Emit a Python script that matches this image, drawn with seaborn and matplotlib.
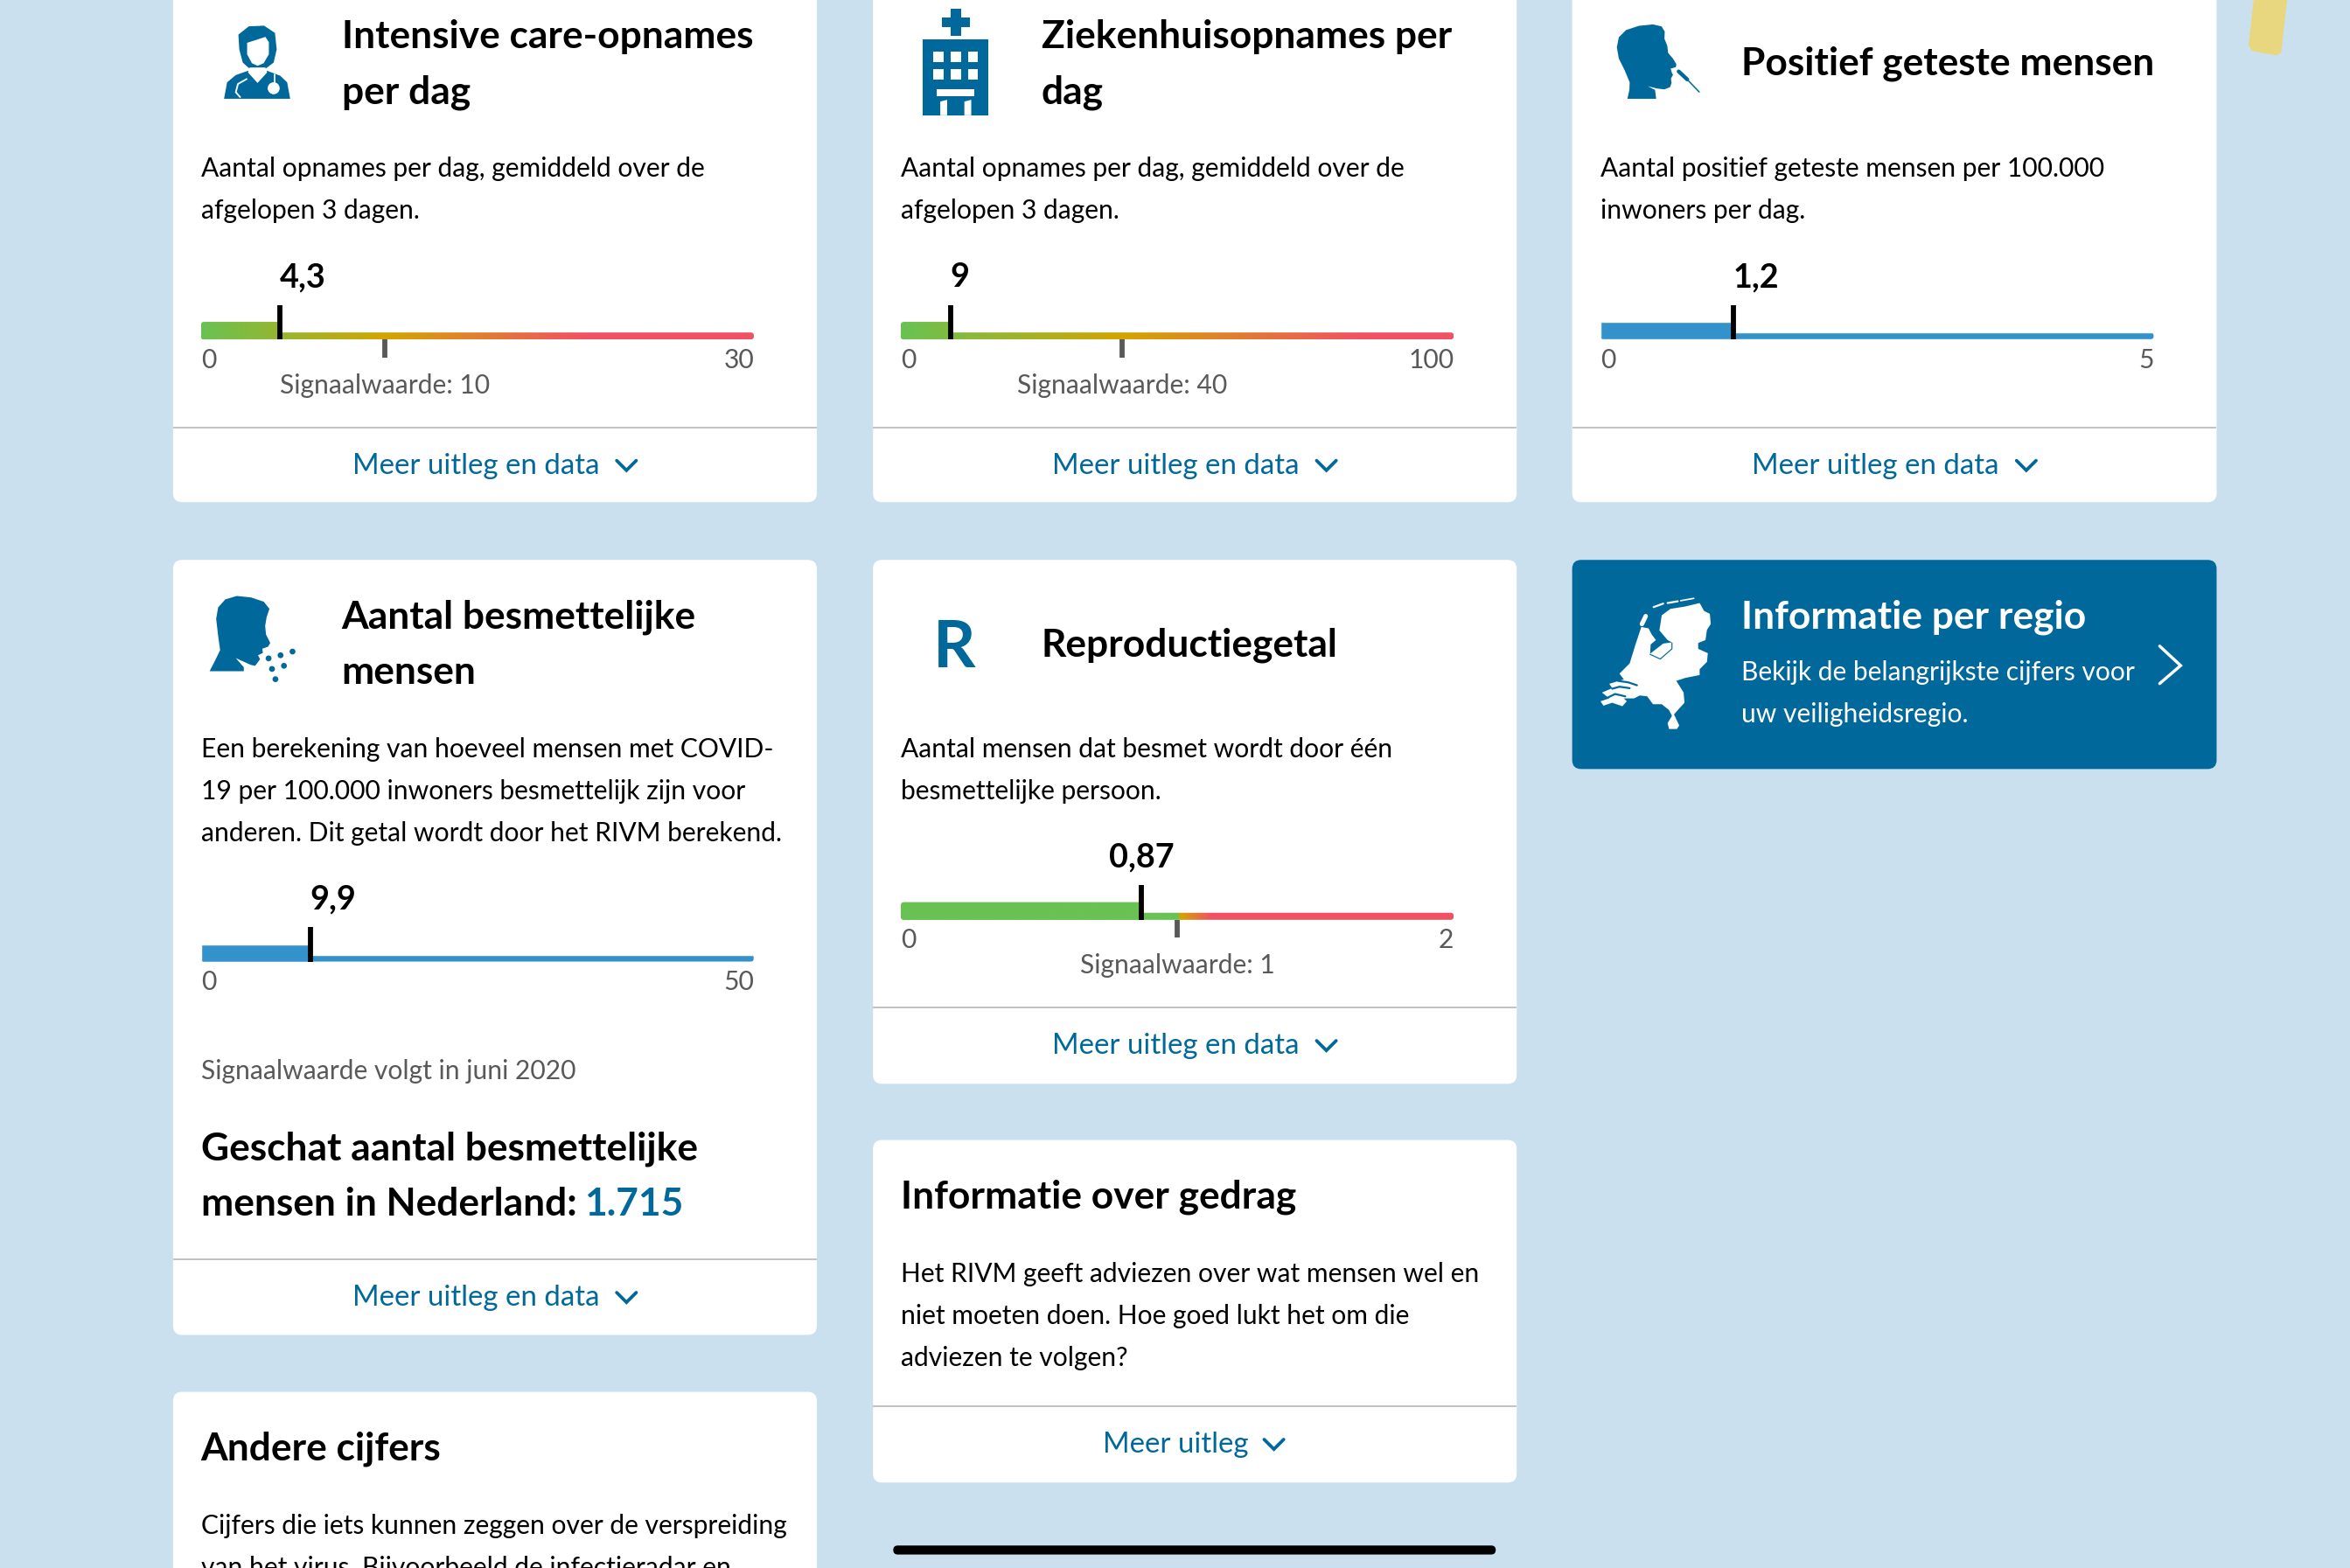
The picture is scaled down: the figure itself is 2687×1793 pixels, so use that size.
import numpy as np
import matplotlib
matplotlib.use("Agg")
import matplotlib.pyplot as plt
from matplotlib.patches import FancyBboxPatch, Polygon, Circle, Rectangle
from matplotlib.colors import LinearSegmentedColormap
import seaborn as sns

# ---- data ----
gauge_names = ["IC", "Ziekenhuis", "Positief", "Besmettelijk", "R"]
gauge_values = [4.3, 9, 1.2, 9.9, 0.87]
gauge_maxima = [30, 100, 5, 50, 2]
gauge_signals = [10, 40, None, None, 1]
gauge_value_labels = ["4,3", "9", "1,2", "9,9", "0,87"]
gauge_max_labels = ["30", "100", "5", "50", "2"]
signal_labels = ["Signaalwaarde: 10", "Signaalwaarde: 40", None, None, "Signaalwaarde: 1"]

sns.set_theme(style="white")
plt.rcParams["font.family"] = ["Lato", "DejaVu Sans"]

W, H = 1568.0, 1046.0
BG = "#CBE0EF"; BLUE = "#01689B"; GREY = "#595959"; LINE = "#C4C4C4"
GREEN = "#69C253"; YELLOW = "#D3A500"; RED = "#F35065"; BARBLUE = "#3391CC"
BODY = 17.5

fig = plt.figure(figsize=(26.87, 17.93), dpi=100, facecolor=BG)
main = fig.add_axes([0, 0, 1, 1])
main.set_xlim(0, W); main.set_ylim(H, 0); main.axis("off")


def pt(px):
    return px * 1.7136 * 72 / 100


def T(x, y, s, size=BODY, color="black", weight="normal", ha="left"):
    main.text(x, y, s, fontsize=pt(size), color=color, fontweight=weight, ha=ha, va="baseline")


def card(x0, y0, x1, y1, color="white"):
    main.add_patch(FancyBboxPatch((x0, y0), x1 - x0, y1 - y0, boxstyle="round,pad=0,rounding_size=6",
                                  fc=color, ec="none", zorder=0.5))


def divider(x0, x1, y):
    main.plot([x0, x1], [y, y], color=LINE, lw=pt(1.2), solid_capstyle="butt", zorder=1)


def chevron(x, y, color=BLUE, w=6.5, h=6.5, lw=2.2):
    main.plot([x - w, x, x + w], [y - h / 2, y + h / 2, y - h / 2], color=color, lw=pt(lw),
              solid_capstyle="round", solid_joinstyle="miter")


def link(xl, base, s, xc):
    T(xl, base, s, size=19.3, color=BLUE)
    chevron(xc, base - 5.5)


def gauge(i, x0, base):
    x1 = x0 + 369
    vmax = gauge_maxima[i]; val = gauge_values[i]; sig = gauge_signals[i]
    ax = fig.add_axes([x0 / W, 1 - (base + 12) / H, 369 / W, 35 / H], facecolor="none")
    col = BARBLUE if sig is None else GREEN
    sns.barplot(x=[vmax], y=[2.3], orient="h", native_scale=True, width=4.6, color=col,
                saturation=1, errorbar=None, ax=ax)
    track = ax.patches[-1]
    sns.barplot(x=[val], y=[5.85], orient="h", native_scale=True, width=11.7, color=col,
                saturation=1, errorbar=None, ax=ax)
    bar = ax.patches[-1]
    per_px = vmax / 369
    aspect = 1 / per_px
    shapes = []
    for b in (track, bar):
        rp = FancyBboxPatch((b.get_x(), b.get_y()), b.get_width(), b.get_height(),
                            boxstyle=f"round,pad=0,rounding_size={2.3 * per_px}",
                            mutation_aspect=aspect, fc="none", ec="none", transform=ax.transData)
        ax.add_patch(rp)
        b.set_clip_path(rp)
        shapes.append(rp)
    if sig is not None:
        if sig == 1:
            stops = [(0, GREEN), (0.5, GREEN), (0.505, YELLOW), (0.56, RED), (1, RED)]
        else:
            s = sig / vmax
            stops = [(0, GREEN), (s, YELLOW), (min(s * 2.1, 0.92), RED), (1, RED)]
        cmap = LinearSegmentedColormap.from_list("g", stops, N=1024)
        for rp in shapes:
            im = ax.imshow(np.linspace(0, 1, 1024)[None, :], extent=[0, vmax, 0, 12], aspect="auto",
                           cmap=cmap, vmin=0, vmax=1, zorder=3)
            im.set_clip_path(rp)
        ax.plot([sig, sig], [-12, 0], color=GREY, lw=4.2, solid_capstyle="butt", zorder=2)
    ax.plot([val, val], [0, 23], color="black", lw=4.2, solid_capstyle="butt", zorder=4)
    ax.set_xlim(0, vmax); ax.set_ylim(-12, 23); ax.axis("off")
    # labels
    xv = x0 + 369 * val / vmax
    if gauge_value_labels[i] == "0,87":
        T(xv, base - 35, gauge_value_labels[i], size=22, weight="bold", ha="center")
    else:
        T(xv, base - 35, gauge_value_labels[i], size=22, weight="bold")
    T(x0, base + 19, "0", color=GREY)
    T(x1, base + 19, gauge_max_labels[i], color=GREY, ha="right")
    if sig is not None:
        T(x0 + 369 * sig / vmax, base + 36, signal_labels[i], color=GREY, ha="center")


# ---- cards ----
card(115.5, -20, 545, 335); card(582.5, -20, 1012, 335); card(1049, -20, 1479, 335)
card(115.5, 373.5, 545, 890.5); card(582.5, 373.5, 1012, 723); card(1049, 373.5, 1479, 513, BLUE)
card(115.5, 928.5, 545, 1090); card(582.5, 760.5, 1012, 989)
divider(115.5, 545, 285); divider(582.5, 1012, 285); divider(1049, 1479, 285)
divider(115.5, 545, 840.3); divider(582.5, 1012, 672.3); divider(582.5, 1012, 938.3)

# ---- text ----
TS = 25.8
T(228, 32, "Intensive care-opnames", TS, weight="bold"); T(228, 69, "per dag", TS, weight="bold")
T(695, 32, "Ziekenhuisopnames per", TS, weight="bold"); T(695, 69, "dag", TS, weight="bold")
T(1162, 50, "Positief geteste mensen", TS, weight="bold")
T(134, 118, "Aantal opnames per dag, gemiddeld over de"); T(134, 146, "afgelopen 3 dagen.")
T(601, 118, "Aantal opnames per dag, gemiddeld over de"); T(601, 146, "afgelopen 3 dagen.")
T(1068, 118, "Aantal positief geteste mensen per 100.000"); T(1068, 146, "inwoners per dag.")
T(228, 419, "Aantal besmettelijke", TS, weight="bold"); T(228, 456, "mensen", TS, weight="bold")
T(134, 505, "Een berekening van hoeveel mensen met COVID-")
T(134, 533, "19 per 100.000 inwoners besmettelijk zijn voor")
T(134, 561, "anderen. Dit getal wordt door het RIVM berekend.")
T(134, 720, "Signaalwaarde volgt in juni 2020", color=GREY)
T(134, 774, "Geschat aantal besmettelijke", TS, weight="bold")
T(134, 811, "mensen in Nederland:", TS, weight="bold")
T(390, 811, "1.715", TS, color=BLUE, weight="bold")
main.text(637, 445, "R", fontsize=pt(44), color=BLUE, fontweight="bold", ha="center", va="baseline")
T(695, 438, "Reproductiegetal", TS, weight="bold")
T(601, 505, "Aantal mensen dat besmet wordt door één"); T(601, 533, "besmettelijke persoon.")
T(1162, 419, "Informatie per regio", TS, color="white", weight="bold")
T(1162, 454, "Bekijk de belangrijkste cijfers voor", color="white")
T(1162, 482, "uw veiligheidsregio.", color="white")
T(134, 974, "Andere cijfers", TS, weight="bold")
T(134, 1023, "Cijfers die iets kunnen zeggen over de verspreiding")
T(134, 1051, "van het virus. Bijvoorbeeld de infectieradar en")
T(601, 806, "Informatie over gedrag", TS, weight="bold")
T(601, 855, "Het RIVM geeft adviezen over wat mensen wel en")
T(601, 883, "niet moeten doen. Hoe goed lukt het om die")
T(601, 911, "adviezen te volgen?")

link(235, 316, "Meer uitleg en data", 418); link(702, 316, "Meer uitleg en data", 885)
link(1169, 316, "Meer uitleg en data", 1352); link(235, 871, "Meer uitleg en data", 418)
link(702, 703, "Meer uitleg en data", 885); link(736, 969, "Meer uitleg", 850)
main.plot([1441, 1455, 1441], [431, 444, 456], color="white", lw=pt(2), solid_capstyle="round", solid_joinstyle="miter")

gauge(0, 134, 226.4); gauge(1, 601, 226.4); gauge(2, 1068, 226.4)
gauge(3, 134, 641.5); gauge(4, 601, 613.5)

# ---- icons (decoration) ----
def to_disp(pts, ox, oy, sx, sy):
    return [((ox + x / sx) / 1.7136, (oy + y / sy) / 1.7136) for x, y in pts]


def poly(pts, color=BLUE, z=2):
    main.add_patch(Polygon(pts, closed=True, fc=color, ec="none", zorder=z))


# doctor
D = lambda p: to_disp(p, 190, 0, 2.01, 2.657)
poly(D([(168, 150), (166, 105), (190, 80), (225, 78), (250, 100), (254, 150), (247, 190), (215, 222), (203, 222), (176, 190)]))
poly(D([(186, 130), (205, 122), (228, 112), (236, 128), (236, 165), (224, 192), (210, 200), (197, 192), (186, 165)]), "white", 2.1)
poly(D([(133, 300), (140, 250), (160, 228), (188, 215), (210, 250), (232, 215), (262, 230), (278, 250), (285, 300)]), BLUE, 2.2)
poly(D([(192, 205), (228, 205), (232, 220), (210, 252), (188, 220)]), "white", 2.3)
x_, y_ = D([(247, 268)])[0]
main.add_patch(Circle((x_, y_), 4.0, fc="white", ec="none", zorder=2.4))
main.plot(*zip(*D([(185, 240), (165, 255), (160, 280), (170, 295)])), color="white", lw=pt(1.1), zorder=2.4)
main.plot(*zip(*D([(250, 225), (250, 260)])), color="white", lw=pt(1.0), zorder=2.4)

# hospital
Hs = lambda p: to_disp(p, 1020, 0, 3.05, 3.05)
poly(Hs([(108, 138), (335, 138), (335, 402), (108, 402)]))
poly(Hs([(204, 30), (240, 30), (240, 60), (270, 60), (270, 96), (240, 96), (240, 126), (204, 126), (204, 96), (174, 96), (174, 60), (204, 60)]))
for cx in (144, 204, 264):
    for cy in (180, 240):
        poly(Hs([(cx, cy), (cx + 36, cy), (cx + 36, cy + 36), (cx, cy + 36)]), "white", 2.1)
poly(Hs([(156, 312), (288, 312), (288, 336), (156, 336)]), "white", 2.1)
poly(Hs([(168, 354), (192, 348), (192, 402), (168, 402)]), "white", 2.1)
poly(Hs([(252, 354), (276, 348), (276, 402), (252, 402)]), "white", 2.1)

# head with swab
S = lambda p: to_disp(p, 1820, 10, 3.07, 3.07)
poly(S([(125, 316), (132, 285), (133, 258), (115, 215), (95, 175), (88, 135), (95, 100), (120, 75), (165, 60), (215, 55), (245, 62), (256, 80), (255, 105), (265, 130), (268, 155), (285, 175), (297, 195), (295, 205), (277, 210), (280, 222), (285, 232), (278, 245), (280, 260), (275, 275), (255, 283), (230, 280), (197, 272), (222, 285), (226, 316)]))
main.plot(*zip(*S([(305, 220), (335, 248)])), color=BLUE, lw=pt(2.6), solid_capstyle="round")
main.plot(*zip(*S([(330, 243), (377, 292)])), color=BLUE, lw=pt(0.9))

# coughing head
C = lambda p: to_disp(p, 225, 665, 3.07, 3.07)
poly(C([(45, 314), (65, 275), (82, 240), (75, 190), (68, 130), (75, 90), (100, 62), (140, 50), (190, 55), (235, 70), (255, 95), (245, 125), (240, 155), (243, 185), (258, 215), (250, 228), (230, 235), (232, 250), (215, 258), (222, 272), (205, 295), (190, 292), (137, 268), (165, 300), (165, 314)]))
for xy in C([(336, 245), (294, 258), (252, 269), (306, 295), (264, 306), (276, 342)]):
    main.add_patch(Circle(xy, 1.95, fc=BLUE, ec="none", zorder=2))

# Netherlands map
N = lambda p: to_disp(p, 1800, 670, 3.0, 3.0)
poly(N([(300, 100), (330, 78), (380, 70), (430, 58), (445, 85), (465, 95), (468, 130), (455, 150), (450, 185), (425, 195), (425, 215), (458, 230), (455, 260), (430, 285), (430, 305), (380, 315), (350, 325), (375, 365), (378, 400), (355, 425), (342, 440), (360, 478), (352, 490), (325, 490), (320, 470), (335, 445), (325, 425), (300, 405), (270, 405), (250, 378), (225, 375), (205, 385), (170, 385), (180, 395), (165, 412), (130, 400), (100, 410), (90, 395), (120, 385), (95, 365), (130, 350), (120, 335), (170, 320), (155, 300), (190, 265), (210, 200), (230, 140), (255, 145), (265, 165), (280, 185), (262, 200), (260, 232), (305, 197), (335, 193), (320, 185), (292, 152)]), "white", 2)
for seg in ([(150, 325), (185, 330), (215, 340)], [(130, 352), (155, 345), (190, 350)], [(115, 382), (140, 370), (175, 378)]):
    main.plot(*zip(*N(seg)), color=BLUE, lw=pt(1.3), zorder=2.2)
main.plot(*zip(*N([(260, 234), (295, 250), (335, 215), (335, 195)])), color=BLUE, lw=pt(0.7), zorder=2.2)
for seg, w in (([(232, 130), (245, 103)], 3.0), ([(272, 72), (305, 60)], 1.3), ([(320, 58), (355, 52)], 1.3), ([(365, 50), (410, 42)], 1.0)):
    main.plot(*zip(*N(seg)), color="white", lw=pt(w), zorder=2.2)

# yellow tab and home indicator
poly(to_disp([(230, 0), (345, 0), (325, 180), (310, 190), (225, 175), (213, 155)], 2500, 0, 3.0, 3.0), "#E9D77F", 0.6)
main.add_patch(FancyBboxPatch((596, 1031), 402, 6, boxstyle="round,pad=0,rounding_size=3", fc="black", ec="none", zorder=3))

fig.savefig("out.png", dpi=100, facecolor=BG)
